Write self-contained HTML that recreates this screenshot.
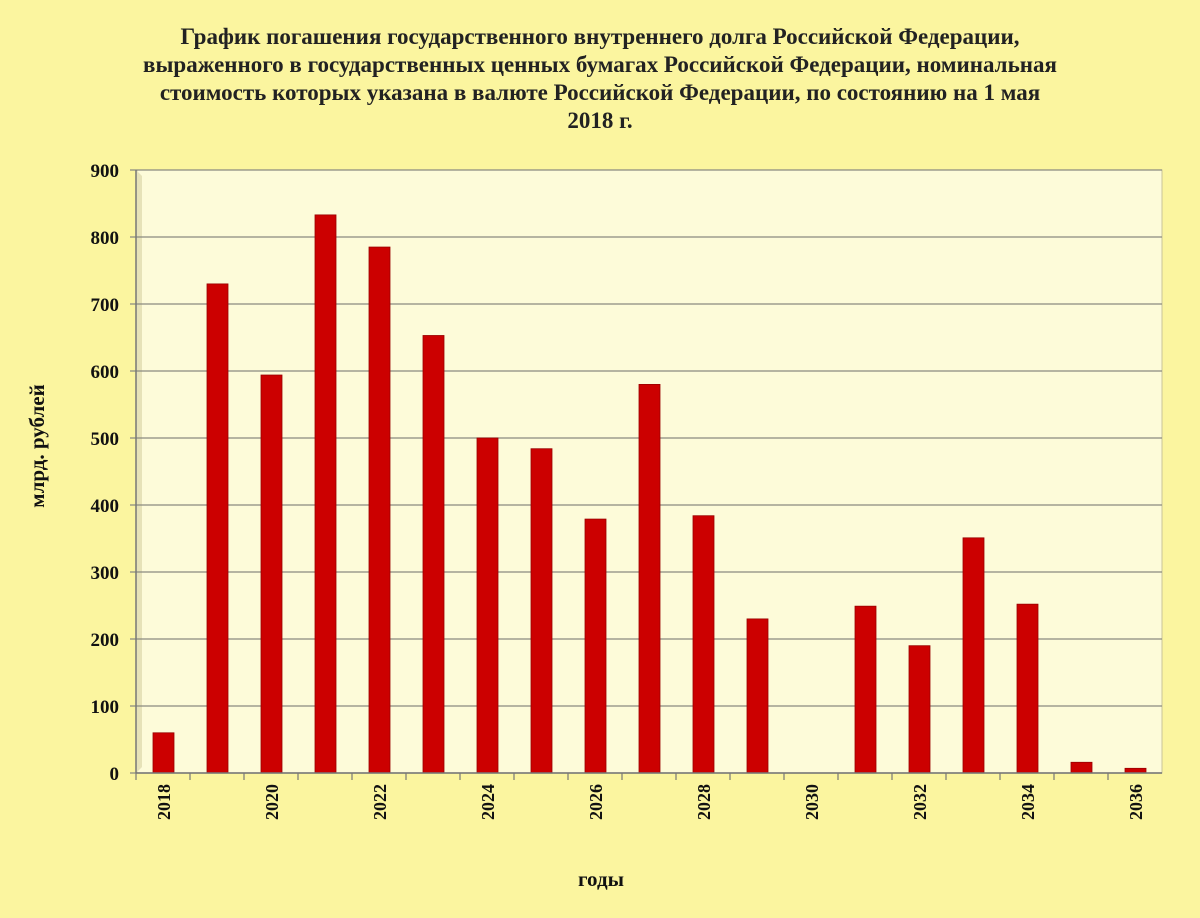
<!DOCTYPE html>
<html><head><meta charset="utf-8"><style>
body{margin:0;width:1200px;height:918px;background:#fbf59f;font-family:"Liberation Serif",serif;overflow:hidden}
</style></head><body>
<div style="position:absolute;left:50px;top:23px;width:1100px;text-align:center;font-weight:bold;font-size:23px;line-height:28px;color:#222">График погашения государственного внутреннего долга Российской Федерации,<br>выраженного в государственных ценных бумагах Российской Федерации, номинальная<br>стоимость которых указана в валюте Российской Федерации, по состоянию на 1 мая<br>2018 г.</div>
<svg id="chart" width="1200" height="918" style="position:absolute;left:0;top:0" font-family="Liberation Serif, serif"></svg>
<script>
const categories=["2018","2019","2020","2021","2022","2023","2024","2025","2026","2027","2028","2029","2030","2031","2032","2033","2034","2035","2036"];
const values=[60,730,594,833,785,653,500,484,379,580,384,230,0,249,190,351,252,16,7];
const yTicks=[0,100,200,300,400,500,600,700,800,900];
const NS="http://www.w3.org/2000/svg";
const svg=document.getElementById('chart');
const x0=136,x1=1162,y0=773,yTop=170,maxV=900;
const slot=(x1-x0)/categories.length;
const yScale=v=>y0-(v/maxV)*(y0-yTop);
const xScale=i=>x0+i*slot;
function mk(tag,attrs){const e=document.createElementNS(NS,tag);for(const k in attrs)e.setAttribute(k,attrs[k]);svg.appendChild(e);return e;}
const bg=mk('rect',{x:x0+1,y:yTop,width:x1-x0-1,height:y0-yTop,fill:'#fdfbd9',stroke:'#c9c49a','stroke-width':1});


const side=mk('polygon',{points:`${x0},${yTop} ${x0+6},${yTop+6} ${x0+6},${y0-6} ${x0},${y0}`,fill:'#e6e2b8'});


yTicks.forEach(t=>{
 const y=yScale(t);
 const g=mk('line',{x1:x0-6,x2:x1,y1:y,y2:y,stroke:'#8a8a80','stroke-width':1.2});
 
 
 const tx=mk('text',{x:x0-17,y:y+7,'text-anchor':'end','font-size':19,'font-weight':'bold',fill:'#111'});
 tx.textContent=t;
 
 
});
const ax=mk('line',{x1:x0,x2:x0,y1:yTop,y2:y0,stroke:'#777','stroke-width':1.5});


categories.forEach((c,i)=>{
 const sx=xScale(i);
 const tk=mk('line',{x1:sx,x2:sx,y1:y0,y2:y0+7,stroke:'#777','stroke-width':1.2});
 
 
 const v=values[i];
 if(v>0){
  const y=yScale(v);
  const b=mk('rect',{x:sx+17,y:y,width:21,height:y0-y,fill:'#cc0000',stroke:'#990000','stroke-width':0.8});
  
  
 }
 if(i%2===0){
  const cx=sx+slot/2;
  const t=mk('text',{x:0,y:0,'text-anchor':'end','font-size':18,'font-weight':'bold',fill:'#111',transform:`translate(${cx+7},${y0+11}) rotate(-90)`});
  t.textContent=c;
  
  
 }
});
const xl=mk('line',{x1:x0,x2:x1,y1:y0,y2:y0,stroke:'#777','stroke-width':1.5});


const yt=mk('text',{x:0,y:0,'text-anchor':'middle','font-size':21,'font-weight':'bold',fill:'#111',transform:'translate(44,446) rotate(-90)'});
yt.textContent='млрд. рублей';


const xt=mk('text',{x:601,y:886,'text-anchor':'middle','font-size':21,'font-weight':'bold',fill:'#111'});
xt.textContent='годы';


</script>
</body></html>
